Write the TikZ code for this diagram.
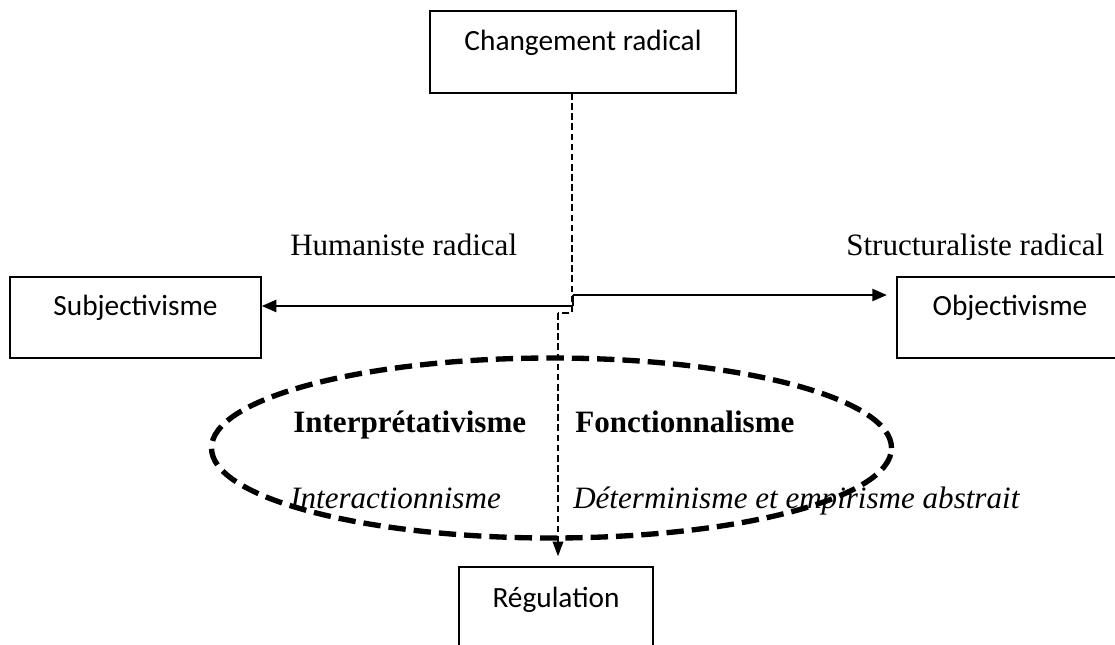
\documentclass[tikz,border=0pt]{standalone}
\usepackage{fontspec}
\setmainfont{Liberation Serif}
\newfontfamily\boxfont{Carlito}
\usetikzlibrary{arrows.meta,fit,shapes.geometric}
\begin{document}
\begin{tikzpicture}[x=0.75pt,y=-0.75pt,
  box/.style={draw,line width=1.1pt,inner sep=0pt},
  boxlabel/.style={font=\boxfont\fontsize{22}{26}\selectfont,inner sep=0pt,anchor=base},
  serif/.style={font=\fontsize{23.3}{27}\selectfont,inner sep=0pt,anchor=base west},
  solidarrow/.style={line width=1.9pt,-{Triangle[length=11pt,width=9pt]}},
  thindash/.style={line width=1.1pt,dash pattern=on 5pt off 2.6pt},
  bigdash/.style={line width=4pt,dash pattern=on 13pt off 6pt}]
\useasboundingbox (0,0) rectangle (1115,644);
\clip (0,0) rectangle (1115,644);
% boxes
\node[box,fit={(430,11) (736,93)}] (chg) {};
\node[boxlabel] (chgt) at (583,50) {Changement radical};
\node[box,fit={(10,277) (261,358)}] (subj) {};
\node[boxlabel] (subjt) at (135.5,315) {Subjectivisme};
\node[box,fit={(897,277) (1125,358)}] (obj) {};
\node[boxlabel] (objt) at (1010,315) {Objectivisme};
\node[box,fit={(459,567) (653,660)}] (reg) {};
\node[boxlabel] (regt) at (556,607) {Régulation};
% quadrant labels
\node[serif] (hum) at (290,255) {Humaniste radical};
\node[serif] (str) at (846,255) {Structuraliste radical};
\node[serif,font=\bfseries\fontsize{23.3}{27}\selectfont] (interp) at (293,432) {Interprétativisme};
\node[serif,font=\bfseries\fontsize{23.3}{27}\selectfont] (fonc) at (575,432) {Fonctionnalisme};
\node[serif,font=\itshape\fontsize{23.3}{27}\selectfont] (inter) at (290,508) {Interactionnisme};
\node[serif,font=\itshape\fontsize{23.3}{27}\selectfont] (det) at (573,508) {Déterminisme et empirisme abstrait};
% dashed vertical path
\coordinate (d1) at (572,93);
\coordinate (d2) at (572,313);
\coordinate (d3) at (558,313);
\draw[thindash] (d1) -- (d2) -- (d3);
\draw[thindash,-{Triangle[length=11pt,width=8pt]},shorten >=7.5pt] (d3) -- (d3 |- reg.north);
% solid axis
\coordinate (m1) at (573,306);
\coordinate (m2) at (573,295);
\draw[solidarrow] (m1) -- (m1 -| subj.east);
\draw[line width=1.9pt] (m1) -- (m2);
\draw[solidarrow,shorten >=7pt] (m2) -- (m2 -| obj.west);
% ellipse
\node[bigdash,draw,ellipse,minimum width=510pt,minimum height=135pt,inner sep=0pt] (ell) at (551.5,448) {};
\end{tikzpicture}
\end{document}
